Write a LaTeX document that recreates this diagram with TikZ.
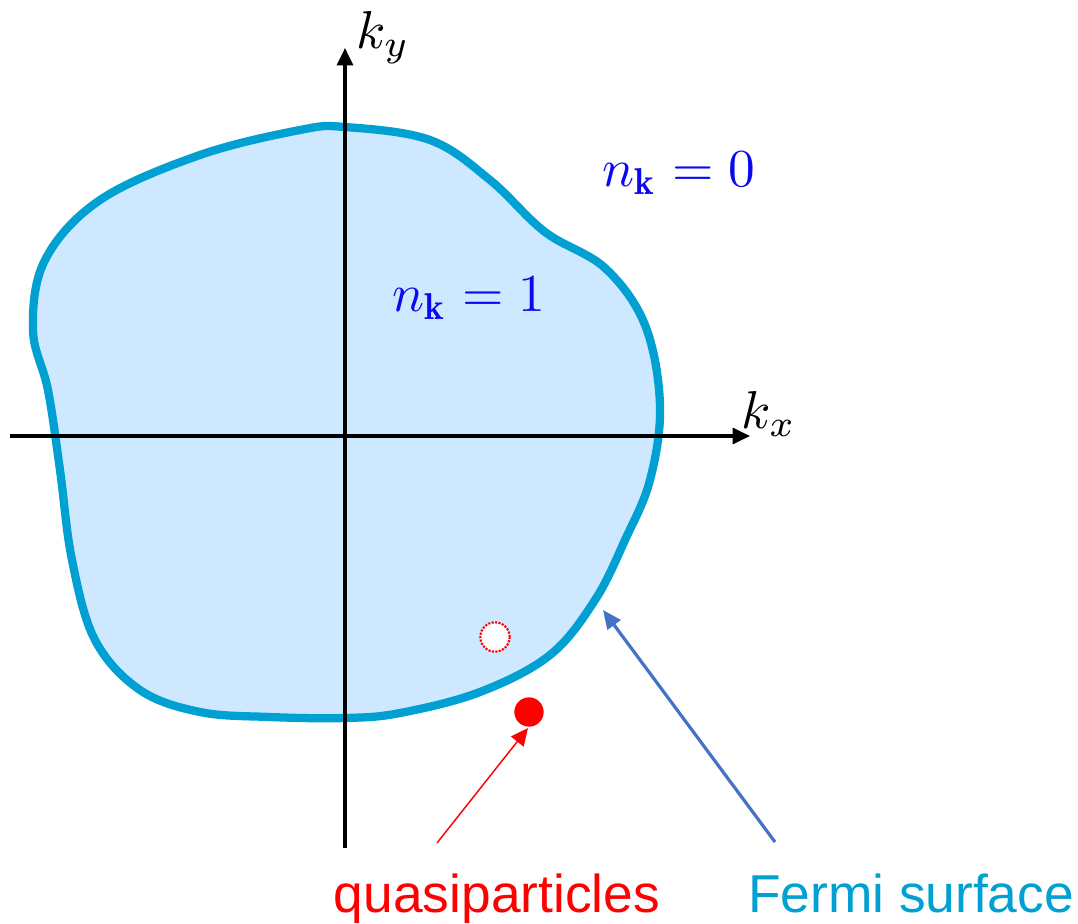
\documentclass[tikz,border=0pt]{standalone}
\usepackage{fontspec}
\newfontfamily\labelfont{Liberation Sans}
\usetikzlibrary{arrows.meta}
\definecolor{fermi}{RGB}{0,160,210}
\definecolor{fermifill}{RGB}{206,232,255}
\definecolor{arrowblue}{RGB}{68,114,196}
\definecolor{nblue}{RGB}{10,10,240}
\tikzset{
  axis/.style={line width=2.5pt, -{Triangle[length=13pt,width=12pt]}},
  mathlbl/.style={font=\normalsize, scale=4, inner sep=0pt},
  bigtext/.style={font=\labelfont\fontsize{40}{48}\selectfont, inner sep=0pt, anchor=base},
}
\begin{document}
\begin{tikzpicture}[x=0.75pt,y=-0.75pt]
\useasboundingbox (0,0) rectangle (1078,924);
% Fermi surface
\draw[line width=6.2pt, draw=fermi, fill=fermifill]
  plot[smooth cycle, tension=0.6] coordinates {
  (345,127) (430,140) (490,180) (545,232) (605,268) (645,325) (660,405)
  (650,480) (625,540) (595,600) (550,655) (480,692) (400,713) (345,718)
  (270,717) (200,712) (140,690) (95,640) (72,560) (60,470) (48,390)
  (33,330) (45,260) (100,200) (200,155) (300,130)};
% axes
\coordinate (xs) at (10,436);
\coordinate (xe) at (750,436);
\coordinate (ys) at (345,848);
\coordinate (ye) at (345,48);
\draw[axis] (xs) -- (xe);
\draw[axis] (ys) -- (ye);
\node[mathlbl] (ky) at (383,38) {$k_y$};
\node[mathlbl] (kx) at (769,414) {$k_x$};
% occupation labels
\node[mathlbl, text=nblue] (n0) at (679,173) {$n_{\mathbf{k}}=0$};
\node[mathlbl, text=nblue] (n1) at (469,298) {$n_{\mathbf{k}}=1$};
% hole and particle
\node[circle, draw=red, fill=white, densely dotted, line width=1.6pt, minimum size=22pt, inner sep=0pt] (hole) at (495,637) {};
\node[circle, fill=red, minimum size=22pt, inner sep=0pt] (qp) at (529,712) {};
% labels
\node[bigtext, text=red] (qlabel) at (497,912) {quasiparticles};
\node[bigtext, text=fermi] (flabel) at (911,912) {Fermi surface};
\coordinate (qs) at (437,843);
\coordinate (qe) at (528,728);
\coordinate (fs) at (775,842);
\coordinate (fe) at (603,610);
\draw[red, line width=1.1pt, -{Triangle[length=13pt,width=12pt]}] (qs) -- (qe);
\draw[arrowblue, line width=2.4pt, -{Triangle[length=14pt,width=12pt]}] (fs) -- (fe);
\end{tikzpicture}
\end{document}
